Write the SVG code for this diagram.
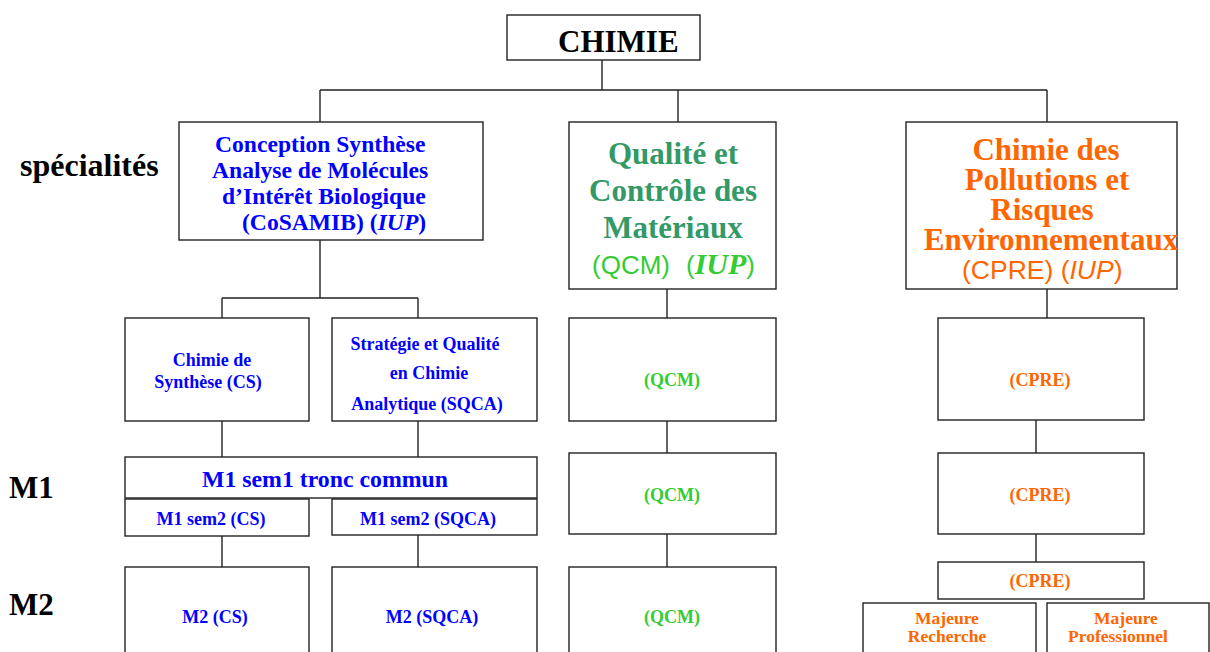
<svg xmlns="http://www.w3.org/2000/svg" width="1210" height="652" viewBox="0 0 1210 652">
<style>
.box{fill:#fff;stroke:#222;stroke-width:1.4}
.ln{stroke:#222;stroke-width:1.4;fill:none}
.tb{font-family:"Liberation Serif","Times New Roman",serif;font-weight:bold}
.blue{fill:#0000ff}
.dg{fill:#339966}
.lg{fill:#33cc33}
.or{fill:#ff6600}
.blk{fill:#000}
.sans{font-family:"Liberation Sans",Arial,sans-serif;font-weight:normal}
.mid{text-anchor:middle}
</style>
<rect width="1210" height="652" fill="#fff"/>
<g id="connectors">
<path class="ln" d="M602 60V90M320 90H1047M320 90V122M678 90V122M1047 90V122"/>
<path class="ln" d="M320 240V298M222 298H418M222 298V318M418 298V318"/>
<path class="ln" d="M222 421V457M418 421V457M222 536V567M418 535V567"/>
<path class="ln" d="M667 289V318M667 421V453M667 534V567"/>
<path class="ln" d="M1047 289V318M1036 420V453M1036 534V562"/>
</g>
<g id="labels">
<text class="tb blk" x="20" y="176" font-size="32">spécialités</text>
<text class="tb blk" x="9" y="498" font-size="31">M1</text>
<text class="tb blk" x="9" y="615" font-size="31">M2</text>
</g>
<g id="chimie">
<rect class="box" x="507" y="15" width="193" height="45"/>
<text class="tb blk" x="558" y="52" font-size="31">CHIMIE</text>
</g>
<g id="cosamib">
<rect class="box" x="179" y="122" width="304" height="118"/>
<text class="tb blue" font-size="23.6"><tspan x="215" y="152">Conception Synthèse</tspan><tspan x="212" y="178">Analyse de Molécules</tspan><tspan x="222" y="204">d’Intérêt Biologique</tspan><tspan x="242" y="230">(CoSAMIB) (<tspan font-style="italic">IUP</tspan>)</tspan></text>
</g>
<g id="qcm">
<rect class="box" x="569" y="122" width="207" height="167"/>
<text class="tb dg mid" font-size="31"><tspan x="673" y="164">Qualité et</tspan><tspan x="673" y="201">Contrôle des</tspan><tspan x="673" y="238">Matériaux</tspan></text>
<text x="592" y="274" font-size="26" class="lg sans">(QCM)</text>
<text x="686" y="274" font-size="26" class="lg"><tspan class="sans">(</tspan><tspan class="tb" font-style="italic" font-size="30">IUP</tspan><tspan class="sans">)</tspan></text>
</g>
<g id="cpre">
<rect class="box" x="906" y="122" width="271" height="167"/>
<text class="tb or mid" font-size="31"><tspan x="1046" y="160">Chimie des</tspan><tspan x="1047" y="190">Pollutions et</tspan><tspan x="1042" y="220">Risques</tspan><tspan x="1051" y="250">Environnementaux</tspan></text>
<text x="962" y="279" font-size="26.5" class="or sans">(CPRE) (<tspan font-style="italic">IUP</tspan>)</text>
</g>
<g id="cs">
<rect class="box" x="125" y="318" width="184" height="103"/>
<text class="tb blue mid" font-size="18"><tspan x="212" y="366">Chimie de</tspan><tspan x="208" y="388">Synthèse (CS)</tspan></text>
</g>
<g id="sqca">
<rect class="box" x="332" y="318" width="205" height="103"/>
<text class="tb blue mid" font-size="18"><tspan x="425" y="350">Stratégie et Qualité</tspan><tspan x="429" y="379">en Chimie</tspan><tspan x="427" y="410">Analytique (SQCA)</tspan></text>
</g>
<g id="qcm1">
<rect class="box" x="569" y="318" width="207" height="103"/>
<text class="tb lg mid" font-size="18" x="672" y="386">(QCM)</text>
</g>
<g id="cpre1">
<rect class="box" x="938" y="318" width="206" height="102"/>
<text class="tb or mid" font-size="18" x="1040" y="386">(CPRE)</text>
</g>
<g id="m1sem1">
<rect class="box" x="125" y="457" width="412" height="41"/>
<text class="tb blue mid" font-size="23.8" x="325" y="487">M1 sem1 tronc commun</text>
</g>
<g id="m1sem2cs">
<rect class="box" x="125" y="499" width="184" height="37"/>
<text class="tb blue mid" font-size="18" x="211" y="525">M1 sem2 (CS)</text>
</g>
<g id="m1sem2sqca">
<rect class="box" x="332" y="499" width="205" height="36"/>
<text class="tb blue mid" font-size="18" x="428" y="525">M1 sem2 (SQCA)</text>
</g>
<g id="qcm2">
<rect class="box" x="569" y="453" width="207" height="81"/>
<text class="tb lg mid" font-size="18" x="672" y="501">(QCM)</text>
</g>
<g id="cpre2">
<rect class="box" x="938" y="453" width="206" height="81"/>
<text class="tb or mid" font-size="18" x="1040" y="501">(CPRE)</text>
</g>
<g id="m2cs">
<rect class="box" x="125" y="567" width="184" height="100"/>
<text class="tb blue mid" font-size="18" x="215" y="623">M2 (CS)</text>
</g>
<g id="m2sqca">
<rect class="box" x="332" y="567" width="205" height="100"/>
<text class="tb blue mid" font-size="18" x="432" y="623">M2 (SQCA)</text>
</g>
<g id="qcm3">
<rect class="box" x="569" y="567" width="207" height="100"/>
<text class="tb lg mid" font-size="18" x="672" y="623">(QCM)</text>
</g>
<g id="cpre3">
<rect class="box" x="938" y="562" width="206" height="37"/>
<text class="tb or mid" font-size="18" x="1040" y="587">(CPRE)</text>
</g>
<g id="majrech">
<rect class="box" x="863" y="603" width="173" height="60"/>
<text class="tb or mid" font-size="17.5"><tspan x="947" y="624">Majeure</tspan><tspan x="947" y="642">Recherche</tspan></text>
</g>
<g id="majpro">
<rect class="box" x="1047" y="603" width="162" height="60"/>
<text class="tb or mid" font-size="17.5"><tspan x="1126" y="624">Majeure</tspan><tspan x="1118" y="642">Professionnel</tspan></text>
</g>
</svg>
